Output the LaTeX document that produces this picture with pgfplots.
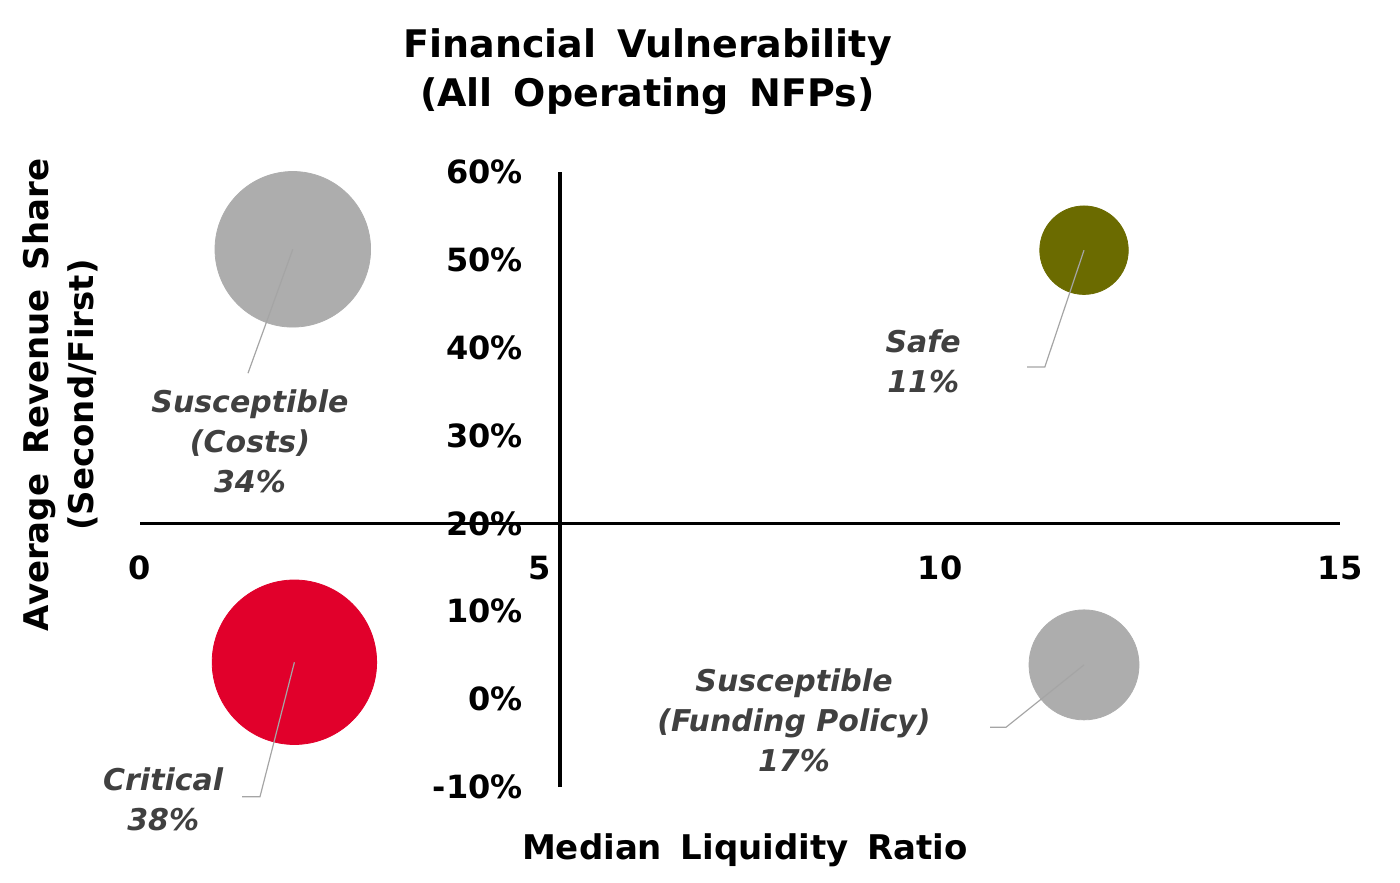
\documentclass[border=0pt]{standalone}
\usepackage{fontspec}
\setmainfont{DejaVu Sans}
\usepackage{pgfplots}
\usepackage{pgfplotstable}
\pgfplotsset{compat=1.18}

\definecolor{bubGray}{RGB}{173,173,173}
\definecolor{bubOlive}{RGB}{107,107,0}
\definecolor{bubRed}{RGB}{225,0,43}
\definecolor{lblGray}{RGB}{64,64,64}
\definecolor{leadGray}{RGB}{165,165,165}

\newcommand{\ws}{\hspace{0.55em}}

% x = median liquidity ratio, y = average revenue share (%), share = % of NFPs
\pgfplotstableread{
x     y     share
1.91  51.2  34
}\costs
\pgfplotstableread{
x     y     share
11.80 51.1  11
}\safe
\pgfplotstableread{
x     y     share
1.93  4.2   38
}\critical
\pgfplotstableread{
x     y     share
11.80 3.9   17
}\funding

\pgfplotsset{
  bubble/.style={
    scatter, only marks, mark=*,
    scatter/use mapped color={draw=#1, fill=#1},
    visualization depends on={6.67*sqrt(\thisrow{share}) \as \rad},
    scatter/@pre marker code/.append style={/tikz/mark size=\rad},
  },
  leader/.style={draw=leadGray, line width=0.6pt, no marks},
  frame/.style={
    at={(70pt,47.5pt)}, anchor=south west,
    scale only axis, width=600pt, height=307.5pt,
    xmin=0, xmax=15, ymin=-10, ymax=60,
    clip=false,
  },
}

\tikzset{
  lbl/.style={align=center, inner sep=0pt, text=lblGray,
              font=\fontsize{15}{20}\selectfont\bfseries\itshape},
}

\begin{document}
\begin{tikzpicture}
\useasboundingbox (0,0) rectangle (700pt,441pt);

\begin{axis}[
  frame,
  axis line style={draw=none},
  major tick length=0pt,
  xtick={0,5,10,15},
  xticklabels={0,5,10,15},
  ytick={-10,0,10,20,30,40,50,60},
  yticklabels={-10\%,0\%,10\%,20\%,30\%,40\%,50\%,60\%},
  tick label style={font=\fontsize{16}{18}\selectfont\bfseries, text=black},
  xticklabel style={anchor=center, inner sep=0pt, yshift=109.5pt},
  yticklabel style={anchor=east, inner sep=0pt, xshift=191.5pt},
]
\addplot[bubble=bubGray]  table[x=x,y=y] {\costs};
\addplot[bubble=bubOlive] table[x=x,y=y] {\safe};
\addplot[bubble=bubRed]   table[x=x,y=y] {\critical};
\addplot[bubble=bubGray]  table[x=x,y=y] {\funding};

% data labels
\node[lbl] at (axis cs:1.375,29.4) {Susceptible\\(Costs)\\34\%};
\node[lbl] at (axis cs:9.79,38.4) {Safe\\11\%};
\node[lbl] at (axis cs:0.29,-11.4) {Critical\\38\%};
\node[lbl] at (axis cs:8.175,-2.37) {Susceptible\\(Funding Policy)\\17\%};
\end{axis}

% overlay axis: crossing axis lines and leader lines on top of the bubbles
\begin{axis}[frame, hide axis]
\addplot[black, line width=1.6pt, no marks] coordinates {(0,20) (15,20)};
\addplot[black, line width=1.6pt, no marks] coordinates {(5.25,-10) (5.25,60)};
\addplot[leader] coordinates {(1.91,51.2) (1.35,37.1)};
\addplot[leader] coordinates {(11.80,51.1) (11.31,37.8) (11.09,37.8)};
\addplot[leader] coordinates {(1.93,4.2) (1.50,-11.1) (1.275,-11.1)};
\addplot[leader] coordinates {(11.80,3.9) (10.825,-3.2) (10.625,-3.2)};
\end{axis}

% titles
\node[align=center, font=\fontsize{19}{24.5}\selectfont\bfseries] at (323.75pt,405.25pt)
  {Financial\ws Vulnerability\\(All\ws Operating\ws NFPs)};
\node[rotate=90, align=center, font=\fontsize{17}{22.5}\selectfont\bfseries] at (30pt,243.5pt)
  {Average\ws Revenue\ws Share\\(Second/First)};
\node[font=\fontsize{17}{20}\selectfont\bfseries] at (372.5pt,16pt)
  {Median\ws Liquidity\ws Ratio};
\end{tikzpicture}
\end{document}
